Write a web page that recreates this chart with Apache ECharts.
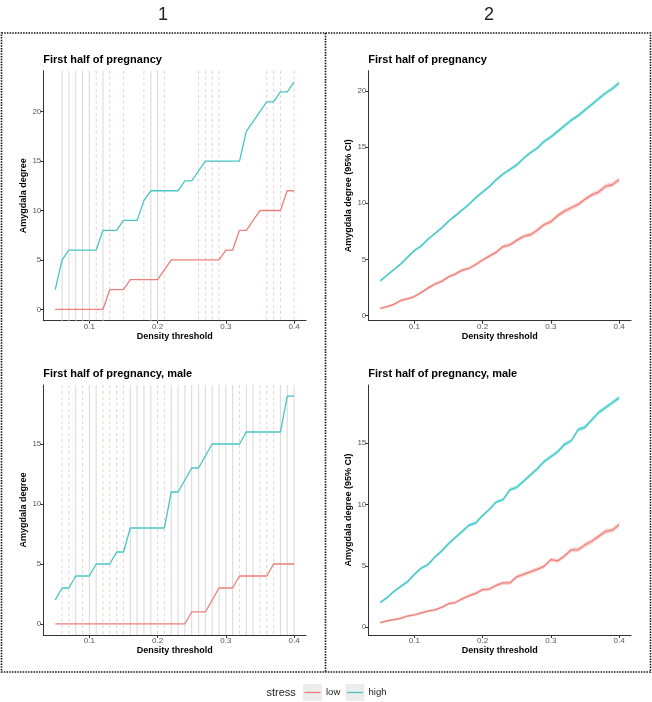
<!DOCTYPE html>
<html><head><meta charset="utf-8">
<script src="https://cdn.jsdelivr.net/npm/echarts@6/dist/echarts.min.js"></script>
<style>html,body{margin:0;padding:0;background:#fff}#c{width:652px;height:702px}</style>
</head><body><div id="c"></div>
<script>
// ---------- data ----------
const thresholds = [0.05,0.06,0.07,0.08,0.09,0.10,0.11,0.12,0.13,0.14,0.15,0.16,0.17,0.18,0.19,0.20,0.21,0.22,0.23,0.24,0.25,0.26,0.27,0.28,0.29,0.30,0.31,0.32,0.33,0.34,0.35,0.36,0.37,0.38,0.39,0.40];

// Panel 1, top: First half of pregnancy (observed degree)
const p1TopLow  = [0,0,0,0,0,0,0,0,2,2,2,3,3,3,3,3,4,5,5,5,5,5,5,5,5,6,6,8,8,9,10,10,10,10,12,12];
const p1TopHigh = [2,5,6,6,6,6,6,8,8,8,9,9,9,11,12,12,12,12,12,13,13,14,15,15,15,15,15,15,18,19,20,21,21,22,22,23];
const p1TopSolidLines  = [0.06,0.07,0.08,0.09,0.10,0.12,0.19,0.20];
const p1TopDashedLines = [0.11,0.13,0.15,0.18,0.21,0.26,0.27,0.28,0.29,0.36,0.37,0.38,0.40];

// Panel 1, bottom: First half of pregnancy, male (observed degree)
const p1BotLow  = [0,0,0,0,0,0,0,0,0,0,0,0,0,0,0,0,0,0,0,0,1,1,1,2,3,3,3,4,4,4,4,4,5,5,5,5];
const p1BotHigh = [2,3,3,4,4,4,5,5,5,6,6,8,8,8,8,8,8,11,11,12,13,13,14,15,15,15,15,15,16,16,16,16,16,16,19,19];
const p1BotSolidLines  = [0.08,0.10,0.11,0.16,0.17,0.18,0.19,0.22,0.23,0.24,0.25,0.26,0.27,0.28,0.29,0.30,0.31,0.33,0.34,0.38,0.39,0.40];
const p1BotDashedLines = [0.06,0.07,0.09,0.12,0.13,0.14,0.15,0.20,0.21,0.32,0.35,0.36,0.37];

// Panel 2, top: First half of pregnancy (mean degree, 95% CI)
const p2TopLow  = [0.65,0.8,1.0,1.35,1.5,1.7,2.05,2.45,2.8,3.05,3.45,3.7,4.05,4.2,4.55,4.95,5.3,5.65,6.15,6.3,6.7,7.05,7.2,7.6,8.1,8.35,8.9,9.3,9.6,9.9,10.35,10.75,11.0,11.5,11.65,12.1];
const p2TopHigh = [3.1,3.6,4.1,4.6,5.2,5.8,6.2,6.8,7.3,7.8,8.4,8.9,9.4,9.9,10.5,11.0,11.5,12.1,12.6,13.0,13.4,14.0,14.5,14.9,15.5,15.9,16.4,16.9,17.4,17.8,18.3,18.8,19.3,19.8,20.2,20.7];
const p2TopLowCI  = [0.12,0.12,0.13,0.13,0.13,0.14,0.14,0.14,0.15,0.15,0.15,0.16,0.16,0.16,0.17,0.17,0.17,0.18,0.18,0.18,0.19,0.19,0.19,0.2,0.2,0.2,0.21,0.21,0.21,0.22,0.22,0.22,0.23,0.23,0.23,0.24];
const p2TopHighCI = [0.12,0.12,0.12,0.12,0.13,0.13,0.13,0.13,0.13,0.14,0.14,0.14,0.14,0.14,0.15,0.15,0.15,0.15,0.15,0.16,0.16,0.16,0.16,0.16,0.17,0.17,0.17,0.17,0.17,0.18,0.18,0.18,0.18,0.18,0.19,0.19];

// Panel 2, bottom: First half of pregnancy, male (mean degree, 95% CI)
const p2BotLow  = [0.35,0.5,0.6,0.7,0.9,1.0,1.15,1.3,1.4,1.6,1.9,2.0,2.3,2.55,2.75,3.05,3.1,3.4,3.6,3.6,4.1,4.3,4.5,4.7,4.95,5.5,5.4,5.8,6.3,6.3,6.7,7.0,7.4,7.8,7.9,8.35];
const p2BotHigh = [2.0,2.4,2.9,3.3,3.7,4.3,4.8,5.1,5.7,6.2,6.8,7.3,7.8,8.3,8.5,9.1,9.6,10.2,10.4,11.2,11.4,11.9,12.4,12.9,13.5,13.9,14.3,14.9,15.2,16.1,16.3,16.9,17.5,17.9,18.3,18.7];
const p2BotLowCI  = [0.1,0.1,0.1,0.11,0.11,0.11,0.12,0.12,0.12,0.13,0.13,0.13,0.14,0.14,0.14,0.15,0.15,0.15,0.16,0.16,0.16,0.17,0.17,0.17,0.18,0.18,0.18,0.19,0.19,0.19,0.2,0.2,0.2,0.21,0.21,0.21];
const p2BotHighCI = [0.12,0.12,0.12,0.12,0.13,0.13,0.13,0.13,0.13,0.14,0.14,0.14,0.14,0.14,0.15,0.15,0.15,0.15,0.15,0.16,0.16,0.16,0.16,0.16,0.17,0.17,0.17,0.17,0.17,0.18,0.18,0.18,0.18,0.18,0.19,0.19];

const xTicks = [0.1,0.2,0.3,0.4];
const yTicksTop = [0,5,10,15,20];
const yTicksBot = [0,5,10,15];
const panelTitles = ['First half of pregnancy','First half of pregnancy, male'];
const columnHeaders = ['1','2'];
const legendTitle = 'stress';
const legendLabels = ['low','high'];

// ---------- style ----------
const COL_LOW = '#ec7f78', COL_HIGH = '#45c6c4';
const FONT = 'Liberation Sans';
const grids = [
  {left:43.3, top:70.7, width:262.7, height:250},
  {left:368.3, top:70.7, width:262.7, height:250},
  {left:43.3, top:385, width:262.7, height:250},
  {left:368.3, top:385, width:262.7, height:250}
];
const yRanges = [[-1.15,24.15],[-0.45,21.8],[-0.92,19.92],[-0.65,19.75]];
const yNames = ['Amygdala degree','Amygdala degree (95% CI)','Amygdala degree','Amygdala degree (95% CI)'];
const yTickSets = [yTicksTop,yTicksTop,yTicksBot,yTicksBot];

const pairs = (ys) => thresholds.map((x,i)=>[x, ys[i]]);

function xAxis(i){
  return {type:'value', gridIndex:i, min:0.0325, max:0.4175,
    name:'Density threshold', nameLocation:'middle', nameGap:11,
    nameTextStyle:{fontFamily:FONT, fontWeight:'bold', fontSize:9, color:'#000'},
    axisLine:{show:true, onZero:false, lineStyle:{color:'#333', width:1}},
    axisTick:{show:true, length:3, lineStyle:{color:'#333'}, customValues:xTicks},
    axisLabel:{show:true, margin:2, fontFamily:FONT, fontSize:8, color:'#555', customValues:xTicks, formatter:v=>String(v)},
    splitLine:{show:false}};
}
function yAxis(i){
  return {type:'value', gridIndex:i, min:yRanges[i][0], max:yRanges[i][1],
    name:yNames[i], nameLocation:'middle', nameGap:(i%2===0)?14:15,
    nameTextStyle:{fontFamily:FONT, fontWeight:'bold', fontSize:9, color:'#000'},
    axisLine:{show:true, onZero:false, lineStyle:{color:'#333', width:1}},
    axisTick:{show:true, length:3, lineStyle:{color:'#333'}, customValues:yTickSets[i]},
    axisLabel:{show:true, margin:2, fontFamily:FONT, fontSize:8, color:'#555', customValues:yTickSets[i]},
    splitLine:{show:false}};
}
function vlines(gi, xs, dashed){
  return {type:'custom', xAxisIndex:gi, yAxisIndex:gi, z:1, silent:true,
    data: xs.map(v=>[v,0]), encode:{x:0,y:1},
    renderItem:(params, api)=>{
      const x = api.coord([api.value(0), api.value(1)])[0];
      const cs = params.coordSys;
      return {type:'line', shape:{x1:x,y1:cs.y,x2:x,y2:cs.y+cs.height},
        style:{stroke: dashed?'#ecd2d2':'#dadada', lineWidth:1.1, lineDash: dashed?[3,3]:null}};
    }};
}
function line(gi, ys, color){
  return {type:'line', xAxisIndex:gi, yAxisIndex:gi, z:3, data:pairs(ys), showSymbol:false, symbol:'none',
    lineStyle:{color, width:1.3}, silent:true, animation:false};
}
function band(gi, ys, hw, color){
  const rows = thresholds.map((x,i)=>[x, ys[i]-hw[i], ys[i]+hw[i]]);
  return {type:'custom', xAxisIndex:gi, yAxisIndex:gi, z:2, silent:true,
    data: rows, encode:{x:0, y:[1,2]},
    renderItem:(params, api)=>{
      if (params.dataIndex !== 0) return null;
      const top = rows.map(r=>api.coord([r[0], r[2]]));
      const bot = rows.map(r=>api.coord([r[0], r[1]])).reverse();
      return {type:'polygon', shape:{points: top.concat(bot)}, style:{fill:color}};
    }};
}

const series = [
  vlines(0, p1TopSolidLines, false), vlines(0, p1TopDashedLines, true),
  line(0, p1TopLow, COL_LOW), line(0, p1TopHigh, COL_HIGH),
  vlines(2, p1BotSolidLines, false), vlines(2, p1BotDashedLines, true),
  line(2, p1BotLow, COL_LOW), line(2, p1BotHigh, COL_HIGH),
  band(1, p2TopLow, p2TopLowCI, 'rgba(248,118,109,0.3)'),
  band(1, p2TopHigh, p2TopHighCI, 'rgba(0,191,196,0.3)'),
  line(1, p2TopLow, COL_LOW), line(1, p2TopHigh, COL_HIGH),
  band(3, p2BotLow, p2BotLowCI, 'rgba(248,118,109,0.3)'),
  band(3, p2BotHigh, p2BotHighCI, 'rgba(0,191,196,0.3)'),
  line(3, p2BotLow, COL_LOW), line(3, p2BotHigh, COL_HIGH)
];

const txt = (x,y,text,size,weight,color,align) => ({type:'text', x, y, silent:true,
  style:{text, fontFamily:FONT, fontSize:size, fontWeight:weight||'normal', fill:color||'#000', align:align||'left', verticalAlign:'middle'}});

const graphic = [
  txt(163,15,columnHeaders[0],18,'normal','#222','center'),
  txt(489,15,columnHeaders[1],18,'normal','#222','center'),
  {type:'rect', silent:true, shape:{x:1.5,y:33,width:649,height:639}, style:{fill:'none', stroke:'#111', lineWidth:1.6, lineDash:[1.5,1.2]}},
  {type:'line', silent:true, shape:{x1:325.5,y1:33,x2:325.5,y2:672}, style:{stroke:'#111', lineWidth:1.6, lineDash:[1.5,1.2]}},
  txt(43.3,60,panelTitles[0],11,'bold','#000'),
  txt(368.3,60,panelTitles[0],11,'bold','#000'),
  txt(43.3,374.3,panelTitles[1],11,'bold','#000'),
  txt(368.3,374.3,panelTitles[1],11,'bold','#000'),
  // legend
  txt(266.5,692.5,legendTitle,11,'normal','#222'),
  {type:'rect', silent:true, shape:{x:303,y:684,width:19,height:17}, style:{fill:'#ececec'}},
  {type:'line', silent:true, shape:{x1:304.5,y1:692.5,x2:320.5,y2:692.5}, style:{stroke:COL_LOW, lineWidth:1.3}},
  txt(326,692.5,legendLabels[0],9.5,'normal','#222'),
  {type:'rect', silent:true, shape:{x:345.5,y:684,width:19,height:17}, style:{fill:'#ececec'}},
  {type:'line', silent:true, shape:{x1:347,y1:692.5,x2:363,y2:692.5}, style:{stroke:COL_HIGH, lineWidth:1.3}},
  txt(368.5,692.5,legendLabels[1],9.5,'normal','#222')
];

const chart = echarts.init(document.getElementById('c'), null, {renderer:'canvas'});
chart.setOption({
  animation:false,
  backgroundColor:'#fff',
  grid: grids,
  xAxis: [0,1,2,3].map(xAxis),
  yAxis: [0,1,2,3].map(yAxis),
  series,
  graphic
});
</script></body></html>
